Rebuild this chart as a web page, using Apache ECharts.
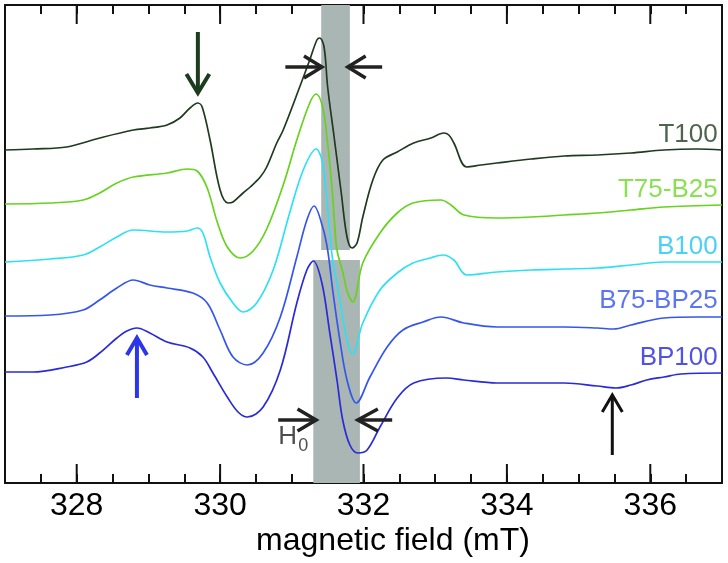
<!DOCTYPE html>
<html>
<head>
<meta charset="utf-8">
<script src="https://cdn.jsdelivr.net/npm/echarts@6/dist/echarts.min.js"></script>
<style>html,body{margin:0;padding:0;background:#fff}#c{width:728px;height:563px}</style>
</head>
<body>
<div id="c"></div>
<script>
// ---- data (magnetic field in mT, signal in arbitrary units incl. vertical offset) ----
const minorTicks = [327, 327.5, 328, 328.5, 329, 329.5, 330, 330.5, 331, 331.5, 332, 332.5, 333, 333.5, 334, 334.5, 335, 335.5, 336, 336.5, 337];
const majorTicks = [328, 330, 332, 334, 336];
const seriesNames = ['T100', 'T75-B25', 'B100', 'B75-BP25', 'BP100'];
const seriesColors = ['#1f3a1f', '#66d31e', '#2fe0f5', '#3556ee', '#2a2ad8'];
const labelColors = ['#203d20', '#6cd826', '#1ec4f4', '#3352ee', '#2626dd'];
const labelLevels = [348, 293, 236, 182, 125];

const t100Field = [327.00,327.39,327.86,328.32,328.79,329.02,329.26,329.44,329.58,329.69,329.75,329.86,330.00,330.11,330.18,330.32,330.42,330.56,330.65,330.79,330.88,331.11,331.25,331.35,331.39,331.45,331.50,331.59,331.69,331.77,331.84,331.91,331.99,332.13,332.27,332.47,332.70,332.94,333.12,333.19,333.26,333.44,333.64,333.86,334.34,334.80,335.26,335.73,336.19,336.65,337.00];
const t100Signal = [333,334,336,345,353,355,358,365,375,380,376,343,293,280,281,290,296,306,316,340,353,396,423,443,445,436,396,346,290,246,235,240,266,303,323,331,340,345,350,348,340,316,318,320,324,327,328,330,333,334,333];

const t75Field = [327.00,327.63,328.09,328.32,328.56,328.79,329.26,329.54,329.68,329.82,329.96,330.10,330.28,330.46,330.65,330.88,331.07,331.25,331.34,331.43,331.49,331.56,331.60,331.63,331.71,331.78,331.85,331.99,332.23,332.47,332.69,333.08,333.22,333.40,333.86,334.34,334.80,335.26,335.73,336.19,337.00];
const t75Signal = [279,280,283,290,300,306,310,314,312,295,261,236,225,232,254,298,343,380,389,376,346,296,256,233,211,190,181,220,250,270,280,283,278,268,265,266,268,270,273,276,278];

const b100Field = [327.00,327.63,328.09,328.32,328.56,328.79,329.26,329.54,329.68,329.76,329.86,330.00,330.18,330.32,330.51,330.74,330.97,331.16,331.34,331.42,331.48,331.53,331.57,331.63,331.67,331.77,331.85,331.99,332.23,332.47,332.69,332.93,333.11,333.26,333.44,333.86,334.34,334.80,335.26,335.73,336.19,337.00];
const b100Signal = [221,224,228,236,246,253,251,252,255,250,226,200,180,171,180,213,270,313,334,323,290,250,223,200,183,143,129,160,193,210,220,225,228,223,208,211,213,214,215,218,221,221];

const b75Field = [327.00,327.63,328.09,328.32,328.56,328.79,329.02,329.26,329.62,329.82,330.00,330.18,330.38,330.60,330.84,331.07,331.21,331.31,331.43,331.50,331.57,331.67,331.77,331.90,332.09,332.33,332.55,332.83,333.08,333.40,333.86,334.34,334.80,335.26,335.49,335.73,336.19,336.65,337.00];
const b75Signal = [167,168,173,183,195,203,198,195,190,180,153,126,118,130,166,226,263,277,256,233,193,143,103,80,106,136,153,161,166,160,156,156,156,155,154,158,165,166,166];

const bp100Field = [327.00,327.39,327.86,328.14,328.32,328.56,328.70,328.84,329.02,329.26,329.58,329.76,329.90,330.10,330.25,330.38,330.60,330.84,331.07,331.21,331.30,331.42,331.53,331.63,331.71,331.81,331.92,332.05,332.23,332.47,332.70,333.16,333.40,333.86,334.34,334.80,335.26,335.52,335.73,335.95,336.19,336.43,337.00];
const bp100Signal = [111,111,116,121,130,145,152,155,150,141,135,126,110,86,71,66,76,113,180,213,222,200,150,103,63,38,30,33,56,85,100,105,103,100,100,100,97,95,98,103,106,109,110];

// grey bands [x0, x1, y0, y1]
const bandTop = [331.41, 331.81, 233, 478];
const bandBottom = [331.30, 331.95, 0, 223];

// arrows: polylines (shaft and chevron heads) [field, signal]
const arrowDarkGreen = [[[329.69, 451], [329.69, 392]], [[329.53, 409], [329.69, 390], [329.85, 409]]];
const arrowTopRight = [[[330.91, 416], [331.40, 416]], [[331.17, 427], [331.42, 416], [331.17, 405]]];
const arrowTopLeft = [[[332.26, 416], [331.80, 416]], [[332.03, 427], [331.78, 416], [332.03, 405]]];
const arrowH0Right = [[[330.81, 63], [331.32, 63]], [[331.08, 74], [331.34, 63], [331.08, 52]]];
const arrowH0Left = [[[332.40, 63], [331.94, 63]], [[332.20, 74], [331.92, 63], [332.20, 52]]];
const arrowBlue = [[[328.84, 85], [328.84, 143]], [[328.70, 128], [328.84, 145], [328.98, 128]]];
const arrowBlack = [[[335.47, 28], [335.47, 86]], [[335.33, 71], [335.47, 88], [335.61, 71]]];

const fieldArrays = [t100Field, t75Field, b100Field, b75Field, bp100Field];
const signalArrays = [t100Signal, t75Signal, b100Signal, b75Signal, bp100Signal];

const Y_MIN = 0, Y_MAX = 478, MAJOR_LEN = 19;
const FONT = "'Liberation Sans', Arial, sans-serif";
const chart = echarts.init(document.getElementById('c'), null, {renderer: 'canvas'});

function zipPts(xs, ys) { return xs.map((x, i) => [x, ys[i]]); }
function segSeries(parts, color, width, z) {
  return {
    type: 'lines', coordinateSystem: 'cartesian2d', polyline: true, z: z || 5,
    silent: true,
    lineStyle: {color: color, width: width, opacity: 1, cap: 'butt', join: 'miter'},
    data: parts.map(p => ({coords: p}))
  };
}

const series = [];
series.push({
  type: 'line', data: [], silent: true, z: 1,
  markArea: {
    silent: true,
    itemStyle: {color: '#aab6b3', opacity: 1},
    data: [
      [{coord: [bandTop[0], bandTop[2]]}, {coord: [bandTop[1], bandTop[3]]}],
      [{coord: [bandBottom[0], bandBottom[2]]}, {coord: [bandBottom[1], bandBottom[3]]}]
    ]
  }
});
// long (major) ticks on the bottom and top frame edges
const majorTickSegs = [];
majorTicks.forEach(v => {
  majorTickSegs.push([[v, Y_MIN], [v, Y_MIN + MAJOR_LEN]]);
  majorTickSegs.push([[v, Y_MAX - MAJOR_LEN], [v, Y_MAX]]);
});
series.push(segSeries(majorTickSegs, '#111111', 2, 2));

seriesNames.forEach((name, i) => {
  series.push({
    name: name, type: 'line', symbol: 'none', smooth: 0.35, z: 3,
    lineStyle: {color: seriesColors[i], width: 1.7},
    data: zipPts(fieldArrays[i], signalArrays[i])
  });
});
series.push({
  type: 'scatter', symbolSize: 0, silent: true, z: 6,
  label: {show: true, position: 'left', distance: 0, fontFamily: FONT, fontSize: 26,
    formatter: p => p.data.name},
  data: seriesNames.map((n, i) => ({name: n, value: [336.94, labelLevels[i]], label: {color: labelColors[i]}}))
});
series.push({
  type: 'scatter', symbolSize: 0, silent: true, z: 6,
  data: [
    {name: 'H', value: [330.81, 46], label: {show: true, position: 'right', distance: 0, fontFamily: FONT, fontSize: 26, color: '#222', formatter: 'H'}},
    {name: '0', value: [331.09, 37], label: {show: true, position: 'right', distance: 0, fontFamily: FONT, fontSize: 18, color: '#222', formatter: '0'}}
  ]
});
series.push(segSeries(arrowDarkGreen, '#1d3b1d', 4));
series.push(segSeries(arrowTopRight, '#222222', 3.5));
series.push(segSeries(arrowTopLeft, '#222222', 3.5));
series.push(segSeries(arrowH0Right, '#222222', 3.5));
series.push(segSeries(arrowH0Left, '#222222', 3.5));
series.push(segSeries(arrowBlue, '#2b35ea', 4));
series.push(segSeries(arrowBlack, '#111111', 3));

const lineStyle = {color: '#111', width: 2};
function dataAxis(pos) {
  return {type: 'value', position: pos, min: 327, max: 337,
    axisLine: {show: true, onZero: false, lineStyle: lineStyle},
    axisTick: {show: false}, axisLabel: {show: false}, splitLine: {show: false}};
}
function minorTickAxis(pos) {
  return {type: 'category', position: pos, boundaryGap: false, data: minorTicks.map(String),
    axisLine: {show: false},
    axisTick: {show: true, inside: true, length: 9, interval: 0, lineStyle: {color: '#111', width: 2}},
    axisLabel: {show: false}, splitLine: {show: false}};
}
function majorLabelAxis(pos) {
  return {type: 'category', position: pos, boundaryGap: true, data: majorTicks.map(String),
    axisLine: {show: false},
    axisTick: {show: false},
    axisLabel: {show: true, interval: 0, margin: 7, color: '#000', fontSize: 32, fontFamily: FONT},
    splitLine: {show: false}};
}

chart.setOption({
  animation: false,
  backgroundColor: '#fff',
  grid: {left: 5, right: 6, top: 5, bottom: 80, containLabel: false},
  xAxis: [dataAxis('bottom'), dataAxis('top'),
          minorTickAxis('bottom'), majorLabelAxis('bottom'), minorTickAxis('top')],
  yAxis: [
    {type: 'value', min: Y_MIN, max: Y_MAX, position: 'left', axisLine: {show: true, onZero: false, lineStyle: lineStyle}, axisTick: {show: false}, axisLabel: {show: false}, splitLine: {show: false}},
    {type: 'value', min: Y_MIN, max: Y_MAX, position: 'right', axisLine: {show: true, onZero: false, lineStyle: lineStyle}, axisTick: {show: false}, axisLabel: {show: false}, splitLine: {show: false}}
  ],
  graphic: [{
    type: 'text', x: 393, y: 541,
    style: {text: 'magnetic field (mT)', fill: '#000', font: '32px ' + FONT, textAlign: 'center', textVerticalAlign: 'middle'}
  }],
  series: series
});
</script>
</body>
</html>
